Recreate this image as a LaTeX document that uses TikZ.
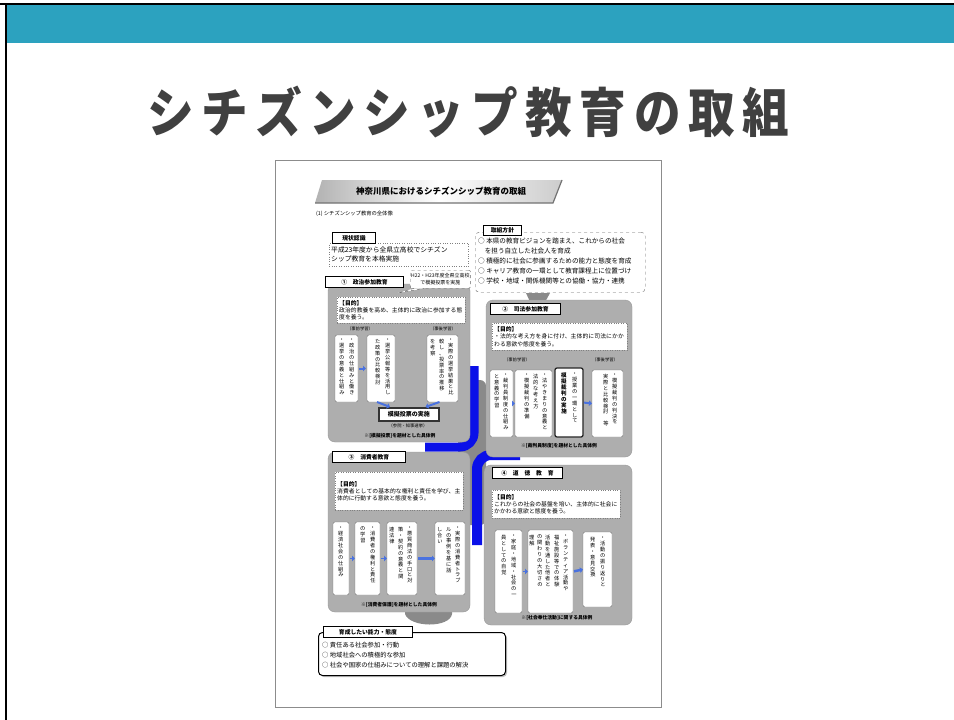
\documentclass[tikz,border=0pt]{standalone}
\usepackage{fontspec}
\newfontfamily\jp{Noto Sans CJK JP}
\newfontfamily\jptitle[LetterSpace=16]{Noto Sans CJK JP}
\XeTeXlinebreaklocale "ja"
\XeTeXlinebreakskip=0pt plus 1pt
\usetikzlibrary{arrows.meta,shadows}
\definecolor{hdrteal}{HTML}{2CA2BF}
\definecolor{titlegray}{HTML}{404040}
\definecolor{panelgray}{HTML}{AEAEAE}
\definecolor{crossgray}{HTML}{8A8A8A}
\definecolor{embblue}{HTML}{0A10E8}
\definecolor{arrowblue}{HTML}{4A72E0}
\makeatletter
\newcommand\vstack[1]{\gdef\vs@sep{}\@tfor\vs@c:=#1\do{\vs@sep\vs@c\gdef\vs@sep{\newline}}}
\makeatother
\begin{document}
\begin{tikzpicture}[x=1pt,y=-1pt,
  panel/.style={fill=panelgray, draw=black!40, rounded corners=7pt, anchor=north west, inner sep=0pt, outer sep=0pt},
  lbl/.style={draw=black, line width=0.9pt, fill=white, inner sep=1pt, anchor=north west,
     font=\jp\bfseries\fontsize{5.8}{6}\selectfont,
     drop shadow={shadow xshift=1pt,shadow yshift=-1pt,opacity=0.5}},
  purp/.style={fill=white, draw=black!50, dotted, anchor=north west, align=left, inner sep=1.5pt,
     font=\jp\fontsize{5.8}{7.4}\selectfont},
  vbox/.style={fill=white, draw=black!55, rounded corners=2pt, anchor=north west, inner sep=0pt, outer sep=0pt},
  vtext/.style={anchor=north, inner sep=0pt, text width=6pt, align=center, font=\jp\fontsize{5.2}{5.9}\selectfont},
  subl/.style={font=\jp\fontsize{4.3}{5}\selectfont, inner sep=0pt},
  foot/.style={font=\jp\bfseries\fontsize{4.8}{5}\selectfont, inner sep=0pt},
  barr/.style={-{Triangle[length=3pt,width=5.5pt]}, line width=2pt, draw=arrowblue},
]
\useasboundingbox (0,0) rectangle (954,720);
\fill[white] (0,0) rectangle (954,720);
% slide header
\fill[hdrteal] (6,5) rectangle (954,43);
\draw[line width=1.6pt] (0,4) -- (954,4);
\draw[line width=1.6pt] (6,4) -- (6,720);
\node[text=titlegray, inner sep=0pt] (title) at (468,112) {\scalebox{0.88}[1]{\jptitle\bfseries\fontsize{53}{60}\selectfont シチズンシップ教育の取組}};

% document frame
\node[draw=black!45, line width=1.3pt, fill=white, anchor=north west, minimum width=386pt, minimum height=547pt, inner sep=0pt] (doc) at (275,160) {};

% banner
\shade[left color=black!30, right color=black!20, middle color=white] (322,180) -- (562,180) -- (553,203) -- (315,203) -- cycle;
\draw[black!55, line width=1.2pt] (315,203) -- (553,203) -- (562,180);
\node[font=\jp\bfseries\fontsize{8.5}{9}\selectfont, inner sep=0pt] (bantxt) at (441,191) {神奈川県におけるシチズンシップ教育の取組};
\node[font=\jp\fontsize{5.3}{6}\selectfont, anchor=west, inner sep=0pt] (sec1) at (316,214) {(1) シチズンシップ教育の全体像};

% current status
\node[purp, minimum width=139pt, minimum height=23pt, text width=135pt, font=\jp\fontsize{6.8}{8.8}\selectfont, inner sep=2pt] (genjo) at (329,243) {平成23年度から全県立高校でシチズン\\シップ教育を本格実施};
\node[lbl, minimum width=43pt, minimum height=11pt] (genjol) at (332,232) {現状認識};

% policy
\node[draw=black!60, dashed, rounded corners=4pt, fill=white, anchor=north west, minimum width=170pt, minimum height=60pt, inner sep=0pt] (hoshin) at (475,232) {};
\node[anchor=north west, align=left, inner sep=0pt, font=\jp\fontsize{6.6}{9.9}\selectfont] (hoshintxt) at (478,238) {○ 本県の教育ビジョンを踏まえ、これからの社会\\　を担う自立した社会人を育成\\○ 積極的に社会に参画するための能力と態度を育成\\○ キャリア教育の一環として教育課程上に位置づけ\\○ 学校・地域・関係機関等との協働・協力・連携};
\node[lbl, minimum width=38pt, minimum height=10pt] (hoshinl) at (483,225) {取組方針};
\fill[crossgray] (526,293) -- (550,293) -- (544,304) -- (531,304) -- cycle;

% central emblem
\fill[crossgray, rounded corners=6pt] (458,380) rectangle (486,525);
\draw[embblue, line width=9pt, rounded corners=14pt] (474,366) -- (474,447) -- (425,447);
\draw[embblue, line width=10pt, rounded corners=14pt] (477,545) -- (477,455) -- (520,455);
% bottom tab
\fill[crossgray] (405,608) -- (452,608) -- (452,614) .. controls (450,628) and (410,628) .. (405,614) -- cycle;

% panels
\node[panel, minimum width=142pt, minimum height=158pt] (p1) at (328,284) {};
\node[panel, minimum width=146pt, minimum height=157pt] (p2) at (486,300) {};
\node[panel, minimum width=142pt, minimum height=160pt] (p3) at (328,452) {};
\node[panel, minimum width=148pt, minimum height=160pt] (p4) at (484,465) {};

% ---- panel 1
\node[lbl, minimum width=78pt, minimum height=11pt] (p1l) at (325,276) {①　政治参加教育};
\node[draw=black!60, dashed, rounded corners=2pt, fill=white, anchor=north west, minimum width=57pt, minimum height=18pt, align=center, inner sep=1pt, font=\jp\fontsize{5}{7}\selectfont] (call) at (410,270) {H22・H23年度全県立高校\\で模擬投票を実施};
\coordinate (callpt) at (398,293);
\filldraw[draw=black!60, dashed, fill=white] ([xshift=4pt]call.south west) -- (callpt) -- ([xshift=14pt]call.south west);
\node[purp, minimum width=128pt, minimum height=26pt, text width=124pt] (p1p) at (337,297) {\textbf{【目的】}\\政治的教養を高め、主体的に政治に参加する態度を養う。};
\node[subl] (p1s1) at (360,329) {（事前学習）};
\node[subl] (p1s2) at (443,329) {（事後学習）};
\node[vbox, minimum width=23pt, minimum height=67pt] (a1) at (335,335) {};
\node[vbox, minimum width=28pt, minimum height=67pt] (a2) at (367,335) {};
\node[vbox, minimum width=31pt, minimum height=67pt] (a3) at (427,335) {};
\node[vtext] (a1c1) at (352,339) {\vstack{・政治の仕組みと働き}};
\node[vtext] (a1c2) at (342,339) {\vstack{・選挙の意義と仕組み}};
\node[vtext] (a2c1) at (388,339) {\vstack{・選挙公報等を活用し}};
\node[vtext] (a2c2) at (378,339) {\vstack{た政策の比較検討}};
\node[vtext] (a3c1) at (451,339) {\vstack{・実際の選挙結果と比}};
\node[vtext] (a3c2) at (442,339) {\vstack{較し、投票率の推移}};
\node[vtext] (a3c3) at (433,339) {\vstack{を考察}};
\node[draw=black!80, line width=1.5pt, fill=white, anchor=north west, minimum width=60pt, minimum height=13pt, inner sep=0pt, font=\jp\bfseries\fontsize{6}{7}\selectfont] (mogi) at (378,407) {模擬投票の実施};
\node[subl] (p1s3) at (408,426) {（参院・知事選挙）};
\node[foot] (p1f) at (400,436) {※[模擬投票]を題材とした具体例};
\draw[barr, shorten <=1pt, shorten >=1pt] (a1.east) -- (a2.west);
\draw[barr] ([xshift=-4pt]a2.south) -- ([xshift=12pt]mogi.north west);
\draw[barr] ([xshift=-3pt]a3.south) -- ([xshift=-14pt]mogi.north east);

% ---- panel 2
\node[lbl, minimum width=70pt, minimum height=11pt] (p2l) at (490,303) {②　司法参加教育};
\node[purp, minimum width=135pt, minimum height=27pt, text width=131pt] (p2p) at (492,323) {\textbf{【目的】}\\・法的な考え方を身に付け、主体的に司法にかかわる意欲や態度を養う。};
\node[subl] (p2s1) at (517,360) {（事前学習）};
\node[subl] (p2s2) at (605,360) {（事後学習）};
\node[vbox, minimum width=23pt, minimum height=67pt] (b1) at (490,370) {};
\node[vbox, minimum width=37pt, minimum height=67pt] (b2) at (515,370) {};
\node[vbox, minimum width=28pt, minimum height=69pt, draw=black!85, line width=1.3pt] (b3) at (555,368) {};
\node[vbox, minimum width=31pt, minimum height=67pt] (b4) at (592,370) {};
\node[vtext] (b1c1) at (506,374) {\vstack{・裁判員制度の仕組み}};
\node[vtext] (b1c2) at (497,374) {\vstack{と意義の学習}};
\node[vtext] (b2c1) at (545,374) {\vstack{・法やきまりの意義と}};
\node[vtext] (b2c2) at (536,374) {\vstack{法的な考え方}};
\node[vtext] (b2c3) at (527,374) {\vstack{・模擬裁判の準備}};
\node[vtext] (b3c1) at (575,373) {\vstack{・授業の一環として}};
\node[vtext, font=\jp\bfseries\fontsize{5.5}{5.9}\selectfont] (b3c2) at (564,373) {\vstack{模擬裁判の実施}};
\node[vtext] (b4c1) at (615,374) {\vstack{・模擬裁判の判決を}};
\node[vtext] (b4c2) at (606,374) {\vstack{実際と比較検討　等}};
\draw[barr, line width=1.5pt, shorten <=0.5pt] (b1.east) -- (b2.west);
\draw[barr, shorten <=1pt] (b3.east) -- (b4.west);
\node[foot] (p2f) at (559,446) {※[裁判員制度]を題材とした具体例};

% ---- panel 3
\node[lbl, minimum width=73pt, minimum height=11pt] (p3l) at (332,451) {③　消費者教育};
\node[purp, minimum width=128pt, minimum height=38pt, text width=124pt] (p3p) at (335,472) {\textbf{【目的】}\\消費者としての基本的な権利と責任を学び、主体的に行動する意欲と態度を養う。};
\node[vbox, minimum width=16pt, minimum height=73pt] (c1) at (333,522) {};
\node[vbox, minimum width=25pt, minimum height=73pt] (c2) at (355,522) {};
\node[vbox, minimum width=30pt, minimum height=73pt] (c3) at (387,522) {};
\node[vbox, minimum width=30pt, minimum height=73pt] (c4) at (435,522) {};
\node[vtext] (c1c1) at (341,527) {\vstack{・経済社会の仕組み}};
\node[vtext] (c2c1) at (373,527) {\vstack{・消費者の権利と責任}};
\node[vtext] (c2c2) at (363,527) {\vstack{の学習}};
\node[vtext] (c3c1) at (410,527) {\vstack{・悪質商法の手口と対}};
\node[vtext] (c3c2) at (401,527) {\vstack{策・契約の意義と関}};
\node[vtext] (c3c3) at (392,527) {\vstack{連法律}};
\node[vtext] (c4c1) at (458,527) {\vstack{・実際の消費者トラブ}};
\node[vtext] (c4c2) at (449,527) {\vstack{ルの事例を基に話}};
\node[vtext] (c4c3) at (440,527) {\vstack{し合い}};
\draw[barr, line width=1.5pt, shorten <=0.5pt] (c1.east) -- (c2.west);
\draw[barr, line width=1.5pt, shorten <=0.5pt] (c2.east) -- (c3.west);
\draw[barr, line width=2.5pt, shorten <=1pt] (c3.east) -- (c4.west);
\node[foot] (p3f) at (399,605) {※[消費者保護]を題材とした具体例};

% ---- panel 4
\node[lbl, minimum width=70pt, minimum height=11pt] (p4l) at (492,467) {④　道　徳　教　育};
\node[purp, minimum width=128pt, minimum height=28pt, text width=124pt] (p4p) at (492,490) {\textbf{【目的】}\\これからの社会の基盤を培い、主体的に社会にかかわる意欲と態度を養う。};
\node[vbox, minimum width=27pt, minimum height=83pt] (d1) at (495,530) {};
\node[vbox, minimum width=45pt, minimum height=83pt] (d2) at (528,530) {};
\node[vbox, minimum width=29pt, minimum height=75pt] (d3) at (583,532) {};
\node[vtext] (d1c1) at (514,535) {\vstack{・家庭・地域・社会の一}};
\node[vtext] (d1c2) at (504,535) {\vstack{員としての自覚}};
\node[vtext] (d2c1) at (566,535) {\vstack{・ボランティア活動や}};
\node[vtext] (d2c2) at (557,535) {\vstack{福祉施設等での体験}};
\node[vtext] (d2c3) at (548,535) {\vstack{活動を通した他者と}};
\node[vtext] (d2c4) at (540,535) {\vstack{の関わりの大切さの}};
\node[vtext] (d2c5) at (532,535) {\vstack{理解}};
\node[vtext] (d3c1) at (603,537) {\vstack{・活動の振り返りと}};
\node[vtext] (d3c2) at (593,537) {\vstack{発表・意見交換}};
\draw[barr, line width=1.5pt, shorten <=0.5pt] (d1.east) -- (d2.west);
\draw[barr, line width=2.5pt, shorten <=1pt] (d2.east) -- (d3.west);
\node[foot] (p4f) at (557,618) {※[社会奉仕活動]に関する具体例};

% ---- goals
\node[draw=black, line width=1pt, fill=white, rounded corners=4pt, anchor=north west, minimum width=187pt, minimum height=43pt, inner sep=0pt,
  drop shadow={shadow xshift=1.5pt,shadow yshift=-1.5pt,opacity=0.5}] (goal) at (318,632) {};
\node[anchor=north west, align=left, inner sep=0pt, font=\jp\fontsize{6.3}{10}\selectfont] (goaltxt) at (322,642) {○ 責任ある社会参加・行動\\○ 地域社会への積極的な参加\\○ 社会や国家の仕組みについての理解と課題の解決};
\node[lbl, minimum width=89pt, minimum height=11pt, anchor=north west] (goall) at (323,626) {育成したい能力・態度};
\end{tikzpicture}
\end{document}
